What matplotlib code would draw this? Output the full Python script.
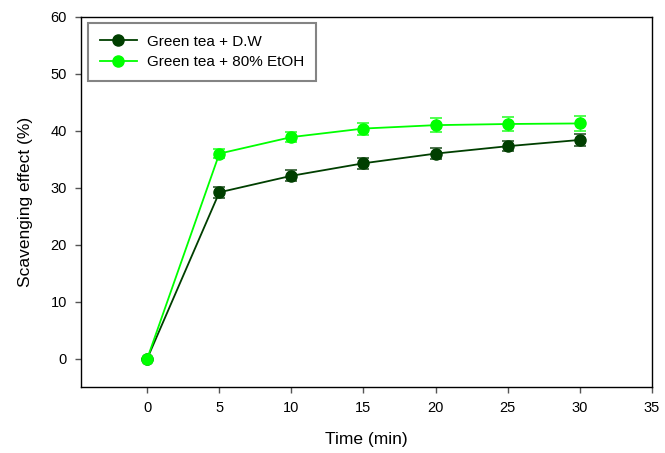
import matplotlib
matplotlib.use("Agg")
import matplotlib.pyplot as plt

plt.rcParams['font.family'] = ['Liberation Sans', 'DejaVu Sans']

time_min = [0, 5, 10, 15, 20, 25, 30]
dw_values = [0, 29.2, 32.1, 34.3, 36.0, 37.3, 38.4]
dw_err = [0, 1.0, 1.0, 0.95, 1.0, 0.9, 1.0]
etoh_values = [0, 36.0, 38.9, 40.4, 41.0, 41.2, 41.3]
etoh_err = [0, 0.8, 0.85, 1.05, 1.25, 1.2, 1.35]
labels = ["Green tea + D.W", "Green tea + 80% EtOH"]
colors = ["#003f00", "#00ff00"]
err_colors = ["#2d5a2d", "#33ff33"]

fig = plt.figure(figsize=(6.65, 4.53), dpi=100)
ax = fig.add_axes([0.1218, 0.1457, 0.8582, 0.8168])

for vals, errs, lab, c, ec in [(dw_values, dw_err, labels[0], colors[0], err_colors[0]),
                               (etoh_values, etoh_err, labels[1], colors[1], err_colors[1])]:
    ax.errorbar(time_min, vals, yerr=errs, fmt='none', ecolor=ec, elinewidth=1.0,
                capsize=4.5, capthick=1.2, zorder=2)
    ax.plot(time_min, vals, color=c, lw=1.3, marker='o', markersize=8,
            markeredgecolor=c, label=lab, zorder=3)

ax.set_xlim(-4.6, 35)
ax.set_ylim(-5, 60)
ax.set_xticks([0, 5, 10, 15, 20, 25, 30, 35])
ax.set_yticks([0, 10, 20, 30, 40, 50, 60])
ax.tick_params(direction='out', length=4, width=1, color='#555555', labelsize=10.5, pad=6)
ax.tick_params(axis='x', top=False)
ax.tick_params(axis='y', right=False)
for s in ax.spines.values():
    s.set_linewidth(1.0)
    s.set_color('black')

ax.set_xlabel("Time (min)", fontsize=12.5, labelpad=12)
ax.set_ylabel("Scavenging effect (%)", fontsize=12.5, labelpad=13)

leg = ax.legend(loc='upper left', bbox_to_anchor=(0.012, 0.985), fontsize=11,
                frameon=True, fancybox=False, handlelength=2.4, borderpad=0.8,
                labelspacing=0.4, handletextpad=0.65, borderaxespad=0)
leg.get_frame().set_edgecolor('#666666')
leg.get_frame().set_linewidth(1.5)

fig.savefig("out.png", dpi=100)
